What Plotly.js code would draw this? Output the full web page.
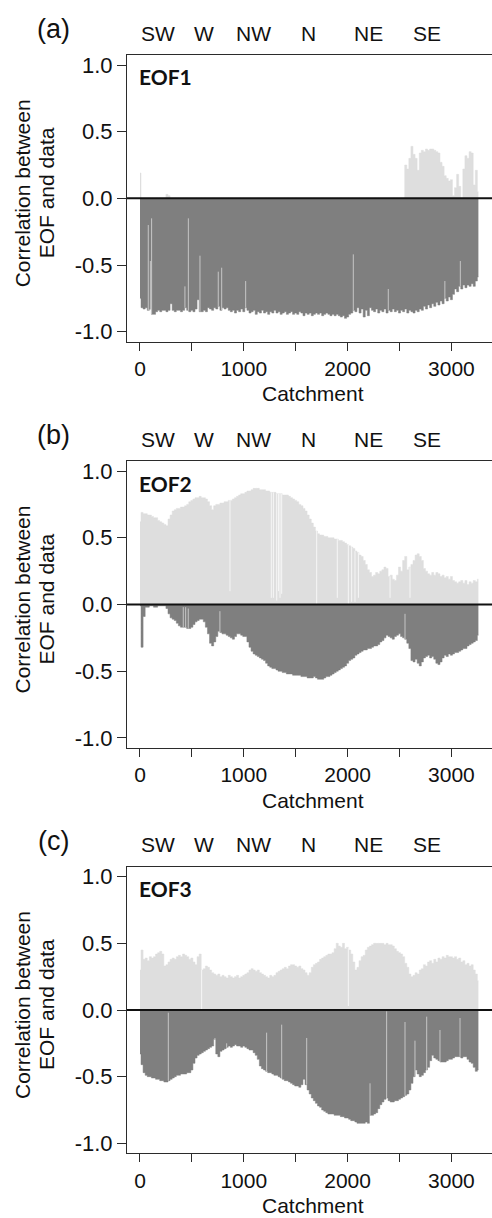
<!DOCTYPE html>
<html><head><meta charset="utf-8">
<script src="https://cdn.plot.ly/plotly-3.0.1.min.js"></script>
<style>html,body{margin:0;padding:0;background:#fff}</style>
</head><body><div id="chart" style="width:492px;height:1218px"></div>
<script>
// catchments are grouped in bins of 20; each bin shows its largest positive and most negative correlation
const binStep = 20;

const panelLabels = ['(a)', '(b)', '(c)'];
const eofNames = ['EOF1', 'EOF2', 'EOF3'];
const regionNames = ['SW', 'W', 'NW', 'N', 'NE', 'SE'];
const regionCentres = [173, 617, 1089, 1628, 2197, 2765];
const xTickVals = [0, 500, 1000, 1500, 2000, 2500, 3000];
const xTickText = ['0', '', '1000', '', '2000', '', '3000'];
const yTickVals = [-1, -0.5, 0, 0.5, 1];
const yTickText = ['-1.0', '-0.5', '0.0', '0.5', '1.0'];

// ---- EOF1 ----
const aPos = [
 0.19,0,0,0,0,0,0,0,0,0,
 0,0,0,0.03,0.02,0,0,0,0,0,
 0,0,0,0,0,0,0,0,0,0,
 0,0,0,0,0,0,0,0,0,0,
 0,0,0,0,0,0,0,0,0,0,
 0,0,0,0,0,0,0,0,0,0,
 0,0,0,0,0,0,0,0,0,0,
 0,0,0,0,0,0,0,0,0,0,
 0,0,0,0,0,0,0,0,0,0,
 0,0,0,0,0,0,0,0,0,0,
 0,0,0,0,0,0,0,0,0,0,
 0,0,0,0,0,0,0,0,0,0,
 0,0,0,0,0,0,0,0,0.25,0.22,
 0.30,0.39,0.33,0.30,0.21,0.34,0.36,0.35,0.37,0.36,
 0.37,0.37,0.36,0.35,0.34,0.27,0.24,0.17,0.15,0.13,
 0.14,0.02,0.08,0.18,0.09,0,0.22,0.32,0.30,0.35,
 0.34,0.10,0.21,0.05];
const aNeg = [
 -0.75,-0.82,-0.83,-0.82,-0.84,-0.83,-0.87,-0.87,-0.85,-0.84,
 -0.85,-0.84,-0.84,-0.85,-0.84,-0.79,-0.84,-0.85,-0.84,-0.84,
 -0.85,-0.84,-0.82,-0.84,-0.85,-0.84,-0.85,-0.83,-0.76,-0.85,
 -0.85,-0.84,-0.85,-0.82,-0.83,-0.84,-0.82,-0.83,-0.81,-0.84,
 -0.82,-0.83,-0.82,-0.84,-0.85,-0.84,-0.86,-0.84,-0.85,-0.83,
 -0.85,-0.82,-0.84,-0.86,-0.85,-0.84,-0.87,-0.85,-0.86,-0.84,
 -0.86,-0.85,-0.87,-0.85,-0.86,-0.84,-0.86,-0.85,-0.87,-0.86,
 -0.85,-0.87,-0.86,-0.85,-0.87,-0.86,-0.87,-0.85,-0.86,-0.88,
 -0.86,-0.87,-0.86,-0.88,-0.87,-0.86,-0.87,-0.86,-0.88,-0.87,
 -0.86,-0.87,-0.88,-0.87,-0.88,-0.87,-0.88,-0.89,-0.88,-0.90,
 -0.89,-0.87,-0.86,-0.84,-0.85,-0.82,-0.86,-0.83,-0.89,-0.84,
 -0.88,-0.82,-0.84,-0.85,-0.83,-0.86,-0.84,-0.85,-0.83,-0.86,
 -0.84,-0.85,-0.83,-0.85,-0.84,-0.86,-0.84,-0.85,-0.83,-0.86,
 -0.84,-0.85,-0.86,-0.84,-0.85,-0.83,-0.84,-0.81,-0.83,-0.80,
 -0.82,-0.79,-0.81,-0.78,-0.80,-0.77,-0.79,-0.75,-0.77,-0.74,
 -0.76,-0.72,-0.68,-0.70,-0.66,-0.68,-0.65,-0.67,-0.65,-0.66,
 -0.64,-0.66,-0.62,-0.59];
const aGapCatchments = [80, 100, 112, 433, 466, 578, 754, 787, 1018, 2055, 2392, 2937, 3086];
const aGapValues = [-0.20, -0.47, -0.15, -0.66, -0.15, -0.43, -0.55, -0.52, -0.62, -0.42, -0.68, -0.62, -0.47];

// ---- EOF2 ----
const bPos = [
 0.62,0.69,0.68,0.68,0.67,0.67,0.66,0.65,0.65,0.63,
 0.62,0.61,0.60,0.59,0.64,0.67,0.70,0.71,0.72,0.72,
 0.73,0.73,0.74,0.75,0.77,0.78,0.79,0.80,0.80,0.81,
 0.80,0.80,0.79,0.77,0.74,0.71,0.74,0.75,0.75,0.76,
 0.76,0.77,0.77,0.78,0.78,0.79,0.80,0.81,0.82,0.83,
 0.83,0.84,0.85,0.85,0.86,0.87,0.87,0.87,0.86,0.86,
 0.86,0.85,0.85,0.84,0.84,0.84,0.83,0.83,0.83,0.82,
 0.82,0.82,0.81,0.80,0.79,0.78,0.77,0.75,0.74,0.72,
 0.70,0.67,0.64,0.61,0.58,0.55,0.53,0.52,0.52,0.51,
 0.51,0.50,0.50,0.50,0.49,0.49,0.48,0.48,0.47,0.46,
 0.45,0.44,0.43,0.42,0.40,0.39,0.37,0.36,0.33,0.30,
 0.26,0.24,0.21,0.22,0.24,0.23,0.25,0.26,0.28,0.27,
 0.21,0.22,0.19,0.18,0.22,0.28,0.25,0.33,0.36,0.26,
 0.28,0.30,0.33,0.37,0.38,0.36,0.33,0.27,0.25,0.23,
 0.22,0.24,0.22,0.24,0.23,0.21,0.22,0.20,0.21,0.19,
 0.21,0.18,0.17,0.16,0.17,0.18,0.16,0.18,0.15,0.17,
 0.16,0.18,0.17,0.19];
const bNeg = [
 -0.01,-0.32,-0.09,-0.02,-0.02,-0.01,-0.01,-0.02,-0.02,-0.01,
 -0.01,-0.01,-0.01,-0.03,-0.07,-0.10,-0.11,-0.12,-0.14,-0.16,
 -0.17,-0.17,-0.17,-0.18,-0.18,-0.17,-0.15,-0.13,-0.12,-0.11,
 -0.11,-0.13,-0.17,-0.22,-0.29,-0.31,-0.28,-0.24,-0.20,-0.21,
 -0.22,-0.22,-0.23,-0.24,-0.25,-0.26,-0.24,-0.22,-0.22,-0.23,
 -0.24,-0.24,-0.28,-0.32,-0.35,-0.37,-0.38,-0.39,-0.40,-0.41,
 -0.42,-0.44,-0.46,-0.47,-0.48,-0.48,-0.49,-0.50,-0.50,-0.51,
 -0.51,-0.52,-0.52,-0.52,-0.53,-0.53,-0.53,-0.53,-0.54,-0.54,
 -0.54,-0.55,-0.55,-0.55,-0.54,-0.55,-0.56,-0.56,-0.56,-0.55,
 -0.54,-0.54,-0.53,-0.52,-0.51,-0.50,-0.49,-0.48,-0.47,-0.46,
 -0.44,-0.42,-0.41,-0.40,-0.38,-0.37,-0.36,-0.35,-0.34,-0.34,
 -0.33,-0.33,-0.32,-0.31,-0.31,-0.30,-0.28,-0.27,-0.25,-0.23,
 -0.24,-0.25,-0.26,-0.24,-0.23,-0.22,-0.24,-0.25,-0.26,-0.29,
 -0.33,-0.42,-0.43,-0.41,-0.44,-0.46,-0.43,-0.40,-0.39,-0.38,
 -0.40,-0.39,-0.41,-0.44,-0.45,-0.43,-0.40,-0.38,-0.39,-0.37,
 -0.38,-0.37,-0.36,-0.36,-0.35,-0.34,-0.33,-0.33,-0.31,-0.30,
 -0.29,-0.28,-0.27,-0.23];
const bGapCatchments = [417, 440, 465, 770, 867, 1265, 1285, 1317, 1335, 1349, 1365, 1702, 1901, 2007, 2039, 2071, 2104, 2409, 2553, 2601];
const bGapValues = [-0.02, -0.02, -0.03, -0.05, 0.10, 0.05, 0.05, 0.03, 0.10, 0.05, 0.08, 0.00, 0.05, 0.00, 0.02, 0.02, 0.05, 0.05, -0.07, 0.05];

// ---- EOF3 ----
const cPos = [
 0.30,0.45,0.38,0.39,0.37,0.40,0.39,0.40,0.42,0.43,
 0.44,0.42,0.33,0.34,0.36,0.38,0.39,0.38,0.40,0.41,
 0.40,0.42,0.41,0.40,0.38,0.39,0.36,0.34,0.40,0.42,
 0.30,0.31,0.33,0.32,0.30,0.28,0.27,0.26,0.27,0.25,
 0.26,0.25,0.24,0.26,0.25,0.24,0.25,0.26,0.24,0.25,
 0.26,0.27,0.28,0.30,0.31,0.30,0.29,0.30,0.28,0.27,
 0.26,0.25,0.24,0.26,0.25,0.26,0.28,0.29,0.30,0.31,
 0.32,0.31,0.33,0.34,0.34,0.33,0.32,0.33,0.31,0.30,
 0.28,0.26,0.28,0.32,0.34,0.35,0.36,0.38,0.39,0.40,
 0.41,0.42,0.42,0.43,0.46,0.50,0.48,0.47,0.50,0.46,
 0.47,0.45,0.42,0.36,0.30,0.32,0.37,0.40,0.41,0.45,
 0.47,0.48,0.49,0.50,0.50,0.50,0.50,0.50,0.49,0.50,
 0.49,0.49,0.48,0.46,0.44,0.43,0.42,0.40,0.35,0.32,
 0.27,0.25,0.26,0.28,0.27,0.30,0.31,0.34,0.33,0.36,
 0.37,0.35,0.38,0.36,0.39,0.38,0.40,0.39,0.41,0.40,
 0.40,0.39,0.40,0.38,0.39,0.36,0.37,0.34,0.35,0.33,
 0.34,0.30,0.27,0.22];
const cNeg = [
 -0.33,-0.41,-0.47,-0.49,-0.50,-0.50,-0.51,-0.51,-0.52,-0.52,
 -0.53,-0.53,-0.54,-0.54,-0.53,-0.52,-0.51,-0.50,-0.49,-0.49,
 -0.48,-0.48,-0.48,-0.47,-0.47,-0.45,-0.40,-0.36,-0.34,-0.33,
 -0.32,-0.31,-0.30,-0.29,-0.28,-0.27,-0.22,-0.33,-0.35,-0.31,
 -0.30,-0.29,-0.28,-0.27,-0.28,-0.27,-0.26,-0.27,-0.27,-0.28,
 -0.27,-0.28,-0.29,-0.30,-0.30,-0.32,-0.34,-0.37,-0.42,-0.44,
 -0.45,-0.46,-0.47,-0.47,-0.48,-0.49,-0.49,-0.50,-0.51,-0.52,
 -0.53,-0.53,-0.54,-0.55,-0.56,-0.57,-0.57,-0.58,-0.56,-0.52,
 -0.56,-0.60,-0.63,-0.66,-0.68,-0.70,-0.72,-0.73,-0.75,-0.76,
 -0.77,-0.78,-0.78,-0.78,-0.79,-0.79,-0.79,-0.80,-0.80,-0.81,
 -0.81,-0.82,-0.83,-0.83,-0.84,-0.85,-0.85,-0.85,-0.85,-0.84,
 -0.85,-0.79,-0.79,-0.78,-0.77,-0.74,-0.71,-0.69,-0.67,-0.66,
 -0.68,-0.69,-0.69,-0.68,-0.68,-0.67,-0.66,-0.65,-0.64,-0.63,
 -0.60,-0.55,-0.50,-0.45,-0.48,-0.50,-0.49,-0.47,-0.45,-0.43,
 -0.38,-0.34,-0.36,-0.37,-0.38,-0.39,-0.39,-0.39,-0.38,-0.37,
 -0.37,-0.36,-0.35,-0.35,-0.35,-0.36,-0.35,-0.35,-0.37,-0.39,
 -0.40,-0.43,-0.46,-0.45];
const cGapCatchments = [273, 594, 722, 835, 1220, 1365, 1606, 2007, 2216, 2376, 2553, 2649, 2762, 2890, 3083];
const cGapValues = [-0.02, 0.00, -0.21, -0.25, -0.17, -0.11, -0.21, 0.03, -0.55, -0.01, -0.09, -0.23, -0.05, -0.15, -0.06];

const panels = [
  {pos: aPos, neg: aNeg, gx: aGapCatchments, gv: aGapValues},
  {pos: bPos, neg: bNeg, gx: bGapCatchments, gv: bGapValues},
  {pos: cPos, neg: cNeg, gx: cGapCatchments, gv: cGapValues}
];

// ---- styling / geometry ----
const W = 492, H = 1218, ML = 127;
const boxes = [[55, 341.7], [461, 748], [866.7, 1153.3]]; // top, bottom in px
const posColor = '#dedede', negColor = '#7f7f7f';
const axisColor = '#2b2b2b';
const txtFont = 'Liberation Sans, Arial, sans-serif';
const px2paperX = p => (p - ML) / (W - ML);
const px2paperY = p => 1 - p / H;

const data = [];
const layout = {
  width: W, height: H,
  margin: {l: ML, r: 0, t: 0, b: 0, pad: 0},
  showlegend: false,
  paper_bgcolor: '#ffffff', plot_bgcolor: '#ffffff',
  font: {family: txtFont, color: '#111111', size: 21},
  annotations: [], shapes: []
};

panels.forEach((p, k) => {
  const xa = k ? 'x' + (k + 1) : 'x';
  const ya = k ? 'y' + (k + 1) : 'y';
  const cx = p.pos.map((_, i) => i * binStep);
  // dense bars drawn as a stepped filled profile (one step per bin)
  data.push({type: 'scatter', mode: 'lines', x: cx, y: p.pos, xaxis: xa, yaxis: ya,
    line: {shape: 'hvh', width: 0.5, color: posColor}, fill: 'tozeroy', fillcolor: posColor,
    hoverinfo: 'skip'});
  data.push({type: 'scatter', mode: 'lines', x: cx, y: p.neg, xaxis: xa, yaxis: ya,
    line: {shape: 'hvh', width: 0.5, color: negColor}, fill: 'tozeroy', fillcolor: negColor,
    hoverinfo: 'skip'});
  // single catchments much weaker than their neighbours: thin pale lines
  const nx = [], ny = [], qx = [], qy = [];
  p.gx.forEach((c, j) => {
    const i = Math.round(c / binStep);
    const v = p.gv[j];
    if (v < 0 && p.neg[i] < v) { nx.push(c, c, null); ny.push(v, p.neg[i], null); }
    if (v >= 0 && p.pos[i] > v) { qx.push(c, c, null); qy.push(v, p.pos[i], null); }
  });
  data.push({type: 'scatter', mode: 'lines', x: nx, y: ny, xaxis: xa, yaxis: ya,
    line: {width: 1, color: '#c6c6c6'}, connectgaps: false, hoverinfo: 'skip'});
  data.push({type: 'scatter', mode: 'lines', x: qx, y: qy, xaxis: xa, yaxis: ya,
    line: {width: 1, color: '#f6f6f6'}, connectgaps: false, hoverinfo: 'skip'});

  const [top, bot] = boxes[k];
  const xKey = k ? 'xaxis' + (k + 1) : 'xaxis';
  const yKey = k ? 'yaxis' + (k + 1) : 'yaxis';
  layout[xKey] = {
    domain: [0, 1], anchor: ya, range: [-125, 3391],
    tickmode: 'array', tickvals: xTickVals, ticktext: xTickText,
    ticks: 'outside', ticklen: 8, tickwidth: 1, tickcolor: axisColor,
    showline: true, mirror: true, linecolor: axisColor, linewidth: 1,
    showgrid: false, zeroline: false, fixedrange: true,
    tickfont: {family: txtFont, size: 21, color: '#111111'}
  };
  layout[yKey] = {
    domain: [px2paperY(bot), px2paperY(top)], anchor: xa, range: [-1.075, 1.075],
    tickmode: 'array', tickvals: yTickVals, ticktext: yTickText,
    ticks: 'outside', ticklen: 9, tickwidth: 1, tickcolor: axisColor,
    showline: true, mirror: false, linecolor: axisColor, linewidth: 1,
    showgrid: false, zeroline: false, fixedrange: true,
    tickfont: {family: txtFont, size: 22, color: '#111111'}
  };
  layout.shapes.push({type: 'line', xref: 'paper', yref: ya, x0: 0, x1: 1, y0: 0, y1: 0,
    line: {color: '#111111', width: 2}, layer: 'above'});

  // panel letter
  layout.annotations.push({text: panelLabels[k], xref: 'paper', yref: 'paper',
    x: px2paperX(53), y: px2paperY(top - 26), xanchor: 'center', yanchor: 'middle',
    showarrow: false, font: {family: txtFont, size: 27, color: '#111111'}});
  // region names
  regionNames.forEach((r, j) => layout.annotations.push({text: r, xref: xa, yref: 'paper',
    x: regionCentres[j], y: px2paperY(top - 22), xanchor: 'center', yanchor: 'middle',
    showarrow: false, font: {family: txtFont, size: 21, color: '#111111'}}));
  // EOF label
  layout.annotations.push({text: '<b>' + eofNames[k] + '</b>', xref: 'paper', yref: 'paper',
    x: px2paperX(137), y: px2paperY(top + 22), xanchor: 'left', yanchor: 'middle',
    showarrow: false, font: {family: 'Lato, Noto Sans, sans-serif', size: 21, color: '#111111'}});
  // y title (two lines)
  const midY = (top + bot) / 2 - 5;
  layout.annotations.push({text: 'Correlation between', xref: 'paper', yref: 'paper',
    x: px2paperX(22), y: px2paperY(midY), xanchor: 'center', yanchor: 'middle', textangle: -90,
    showarrow: false, font: {family: txtFont, size: 21, color: '#111111'}});
  layout.annotations.push({text: 'EOF and data', xref: 'paper', yref: 'paper',
    x: px2paperX(46), y: px2paperY(midY), xanchor: 'center', yanchor: 'middle', textangle: -90,
    showarrow: false, font: {family: txtFont, size: 21, color: '#111111'}});
  // x title
  layout.annotations.push({text: 'Catchment', xref: 'paper', yref: 'paper',
    x: px2paperX(312.5), y: px2paperY(bot + 52), xanchor: 'center', yanchor: 'middle',
    showarrow: false, font: {family: txtFont, size: 21, color: '#111111'}});
});

Plotly.newPlot('chart', data, layout, {displayModeBar: false, staticPlot: true});
</script>
</body></html>
